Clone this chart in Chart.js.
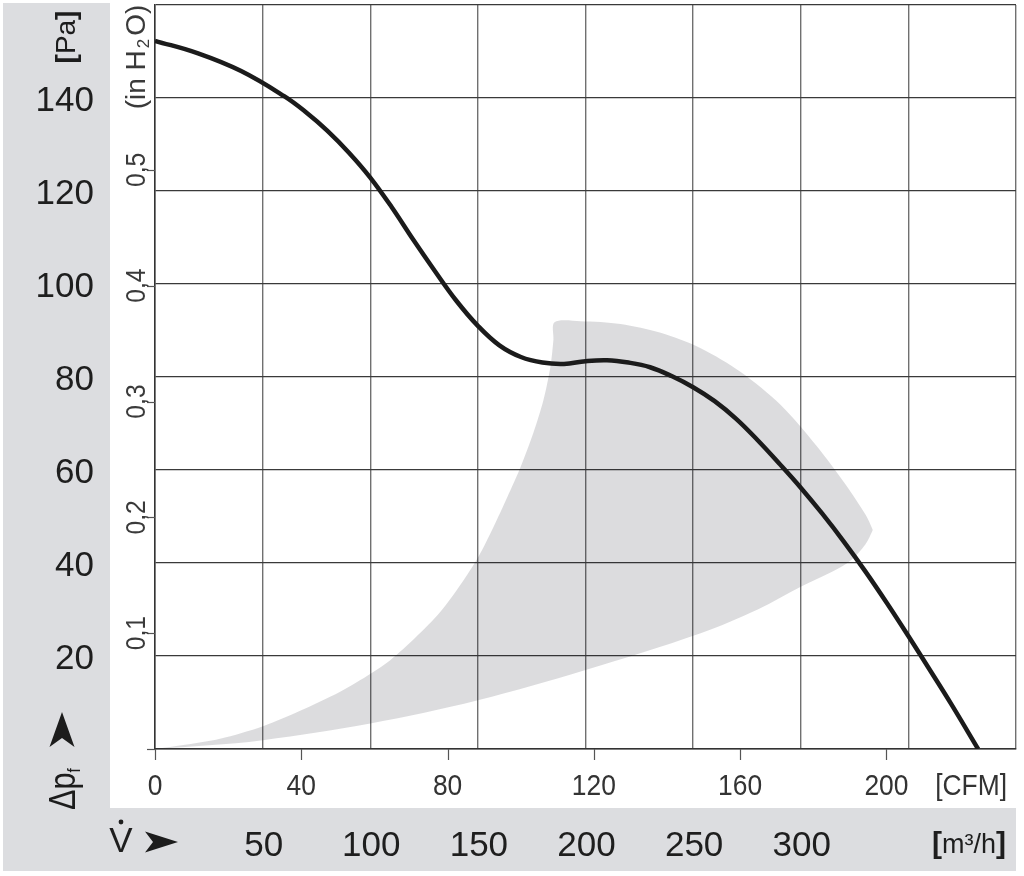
<!DOCTYPE html>
<html>
<head>
<meta charset="utf-8">
<style>
html,body{margin:0;padding:0;background:#fff;}
#wrap{position:relative;width:1024px;height:876px;}
canvas{display:block;}
</style>
<script src="https://cdn.jsdelivr.net/npm/chart.js@4.4.1/dist/chart.umd.min.js"></script>
</head>
<body>
<div id="wrap"><canvas id="c" width="1024" height="876"></canvas></div>
<script>
// ---- data (flow in m³/h, pressure in Pa) ----
const curveFlow = [0,20,40,60,70,80,90,100,110,120,130,140,150,160,170,180,190,200,210,220,230,240,250,260,270,280,290,300,310,320,330,340,350,360,370,382.4];
const curvePa   = [152.3,149.6,145.8,140.4,137,133,128.3,122.9,116.5,109.5,102.8,96.4,91,86.8,84.3,83.1,82.8,83.4,83.6,83.1,82.1,80.2,77.8,74.8,71,66.4,61.4,56.2,50.6,44.6,38.2,31.4,24.3,17.0,9.6,0];

const zoneUpperFlow = [0,14,30.2,50.2,67.4,86,100.5,109.3,120.9,132.6,141.9,150.2,157.2,163.7,169.8,175.8,180.5,183.7,185.1,185.6,197.7,216.3,234.9,253.5,272.1,290.7,307,321,330.2,333.5];
const zoneUpperPa   = [0,0.9,2.2,4.9,8.2,12.3,16.3,19.1,23.9,29.5,35.3,41.3,47.7,54.2,60.6,68,75.1,82.2,88,91.8,92.0,91.4,89.5,86.2,81.1,74.0,65.4,56.8,50.3,47.1];
const zoneLowerFlow = [0,25,50,100,150,200,253.5,280,300,315,323.3,330,333.5];
const zoneLowerPa   = [0,0.8,1.9,5.5,10.5,17,24.9,30,34.9,38.2,40.6,44,47.1];

const paTickValues   = [20,40,60,80,100,120,140];
const m3hTickValues  = [50,100,150,200,250,300];
const cfmTickValues  = [0,40,80,120,160,200];
const inH2OTickValues = [0,0.1,0.2,0.3,0.4,0.5];
const inH2OTickLabels = ['','0,1','0,2','0,3','0,4','0,5'];

const CFM_TO_M3H = 1.699;
const INH2O_TO_PA = 249.089;

const FONT = '"Liberation Sans", Arial, Helvetica, sans-serif';
const PANEL = '#dcdde0';
const INK = '#1c1c1c';

function pts(xs, ys){ return xs.map((x,i)=>({x:x, y:ys[i]})); }

function drawRuns(ctx, runs, x, y, opt){
  ctx.save();
  ctx.translate(x, y);
  if (opt.rotate) ctx.rotate(-Math.PI/2);
  ctx.scale(opt.sx || 1, 1);
  ctx.textBaseline = 'alphabetic';
  ctx.textAlign = 'left';
  let total = 0;
  runs.forEach(r => { ctx.font = r.font; r.w = ctx.measureText(r.t).width + (r.gap || 0); total += r.w; });
  let cx = opt.align === 'center' ? -total/2 : (opt.align === 'right' ? -total : 0);
  runs.forEach(r => {
    ctx.font = r.font;
    ctx.fillStyle = r.color || opt.color || INK;
    ctx.fillText(r.t, cx + (r.pre || 0), r.dy || 0);
    cx += r.w;
  });
  ctx.restore();
}

function arrowHead(ctx, tipX, tipY, dir, len, half, notch){
  ctx.save();
  ctx.fillStyle = INK;
  ctx.beginPath();
  if (dir === 'right'){
    ctx.moveTo(tipX, tipY);
    ctx.lineTo(tipX - len, tipY - half);
    ctx.lineTo(tipX - len + notch, tipY);
    ctx.lineTo(tipX - len, tipY + half);
  } else {
    ctx.moveTo(tipX, tipY);
    ctx.lineTo(tipX + half, tipY + len);
    ctx.lineTo(tipX, tipY + len - notch);
    ctx.lineTo(tipX - half, tipY + len);
  }
  ctx.closePath();
  ctx.fill();
  ctx.restore();
}

const deco = {
  id: 'deco',
  beforeDraw(chart){
    const ctx = chart.ctx;
    ctx.save();
    ctx.fillStyle = '#ffffff';
    ctx.fillRect(0, 0, chart.width, chart.height);
    ctx.fillStyle = PANEL;
    ctx.fillRect(3, 3, 107, 868);
    ctx.fillRect(3, 808, 1013, 63);
    ctx.restore();
  },
  afterDraw(chart){
    const ctx = chart.ctx;
    const xs = chart.scales.x, ys = chart.scales.y;
    const bottom = chart.chartArea.bottom, left = chart.chartArea.left;

    ctx.save();
    ctx.strokeStyle = '#555';
    ctx.lineWidth = 1.2;
    cfmTickValues.forEach(v => {
      const px = Math.round(xs.getPixelForValue(v * CFM_TO_M3H)) + 0.5;
      ctx.beginPath(); ctx.moveTo(px, bottom); ctx.lineTo(px, bottom + 11); ctx.stroke();
    });
    inH2OTickValues.forEach(v => {
      const py = Math.round(ys.getPixelForValue(v * INH2O_TO_PA)) + 0.5;
      ctx.beginPath(); ctx.moveTo(left - 8, py); ctx.lineTo(left, py); ctx.stroke();
    });
    ctx.restore();

    paTickValues.forEach(v => {
      const py = ys.getPixelForValue(v);
      drawRuns(ctx, [{t: String(v), font: '35px ' + FONT}], 94, py + 12.5, {align: 'right', color: '#1e1e1e'});
    });
    inH2OTickValues.forEach((v, i) => {
      if (!inH2OTickLabels[i]) return;
      const py = ys.getPixelForValue(v * INH2O_TO_PA);
      drawRuns(ctx, [{t: inH2OTickLabels[i], font: '28px ' + FONT}], 145, py, {rotate: true, align: 'center', sx: 0.88, color: '#3a3a3a'});
    });
    drawRuns(ctx, [
      {t: '(in H', font: '28px ' + FONT},
      {t: '2', font: '17px ' + FONT, dy: 4, pre: 2, gap: 5},
      {t: 'O)', font: '28px ' + FONT}
    ], 145, 57, {rotate: true, align: 'center', sx: 1, color: '#3a3a3a'});

    drawRuns(ctx, [
      {t: '[', font: 'bold 28px ' + FONT},
      {t: 'Pa', font: '28px ' + FONT},
      {t: ']', font: 'bold 28px ' + FONT}
    ], 75, 37, {rotate: true, align: 'center'});

    drawRuns(ctx, [
      {t: 'Δ', font: '36px ' + FONT},
      {t: 'p', font: '36px ' + FONT},
      {t: 'f', font: '18px ' + FONT, dy: 5}
    ], 75, 810, {rotate: true, align: 'left', sx: 0.85});
    arrowHead(ctx, 62, 712, 'up', 35, 12.5, 9);

    cfmTickValues.forEach(v => {
      const px = xs.getPixelForValue(v * CFM_TO_M3H);
      drawRuns(ctx, [{t: String(v), font: '30px ' + FONT}], px, 795, {align: 'center', sx: 0.88, color: '#333'});
    });
    drawRuns(ctx, [{t: '[CFM]', font: '30px ' + FONT}], 1007, 795, {align: 'right', sx: 0.88, color: '#333'});

    m3hTickValues.forEach(v => {
      const px = xs.getPixelForValue(v);
      drawRuns(ctx, [{t: String(v), font: '35px ' + FONT}], px + 1, 856, {align: 'center', color: '#1e1e1e'});
    });
    drawRuns(ctx, [
      {t: '[', font: 'bold 30px ' + FONT},
      {t: 'm³/h', font: '27px ' + FONT},
      {t: ']', font: 'bold 30px ' + FONT}
    ], 1006, 853, {align: 'right', color: '#1e1e1e'});

    drawRuns(ctx, [{t: 'V', font: '35px ' + FONT}], 121, 852, {align: 'center', color: '#1e1e1e'});
    ctx.save();
    ctx.fillStyle = '#1e1e1e';
    ctx.beginPath(); ctx.arc(121, 822, 2.4, 0, Math.PI*2); ctx.fill();
    ctx.restore();
    arrowHead(ctx, 178, 842, 'right', 33, 10.5, 8);
  }
};

const chart = new Chart(document.getElementById('c'), {
  type: 'line',
  data: {
    datasets: [
      {
        label: 'Kennlinie',
        data: pts(curveFlow, curvePa),
        borderColor: '#1b1b1b',
        borderWidth: 4.5,
        pointRadius: 0,
        tension: 0.4,
        fill: false,
        order: 0
      },
      {
        label: 'zone-upper',
        data: pts(zoneUpperFlow, zoneUpperPa),
        borderColor: 'rgba(0,0,0,0)',
        borderWidth: 0,
        pointRadius: 0,
        backgroundColor: 'rgba(20,22,35,0.15)',
        tension: 0.3,
        fill: 2,
        order: 1
      },
      {
        label: 'zone-lower',
        data: pts(zoneLowerFlow, zoneLowerPa),
        borderColor: 'rgba(0,0,0,0)',
        borderWidth: 0,
        pointRadius: 0,
        tension: 0.35,
        fill: false,
        order: 2
      }
    ]
  },
  options: {
    responsive: false,
    animation: false,
    devicePixelRatio: 1,
    layout: { padding: { left: 155, right: 8, top: 5, bottom: 127 } },
    plugins: {
      legend: { display: false },
      tooltip: { enabled: false },
      filler: { drawTime: 'beforeDatasetsDraw' }
    },
    scales: {
      x: {
        type: 'linear', min: 0, max: 400,
        ticks: { stepSize: 50, display: false },
        grid: { color: '#707070', lineWidth: 1.4, drawTicks: false },
        border: { display: true, color: '#333', width: 1.5 }
      },
      y: {
        type: 'linear', min: 0, max: 160,
        ticks: { stepSize: 20, display: false },
        grid: { color: '#3a3a3a', lineWidth: 1.2, drawTicks: false },
        border: { display: true, color: '#333', width: 1.5 }
      }
    }
  },
  plugins: [deco]
});
</script>
</body>
</html>
